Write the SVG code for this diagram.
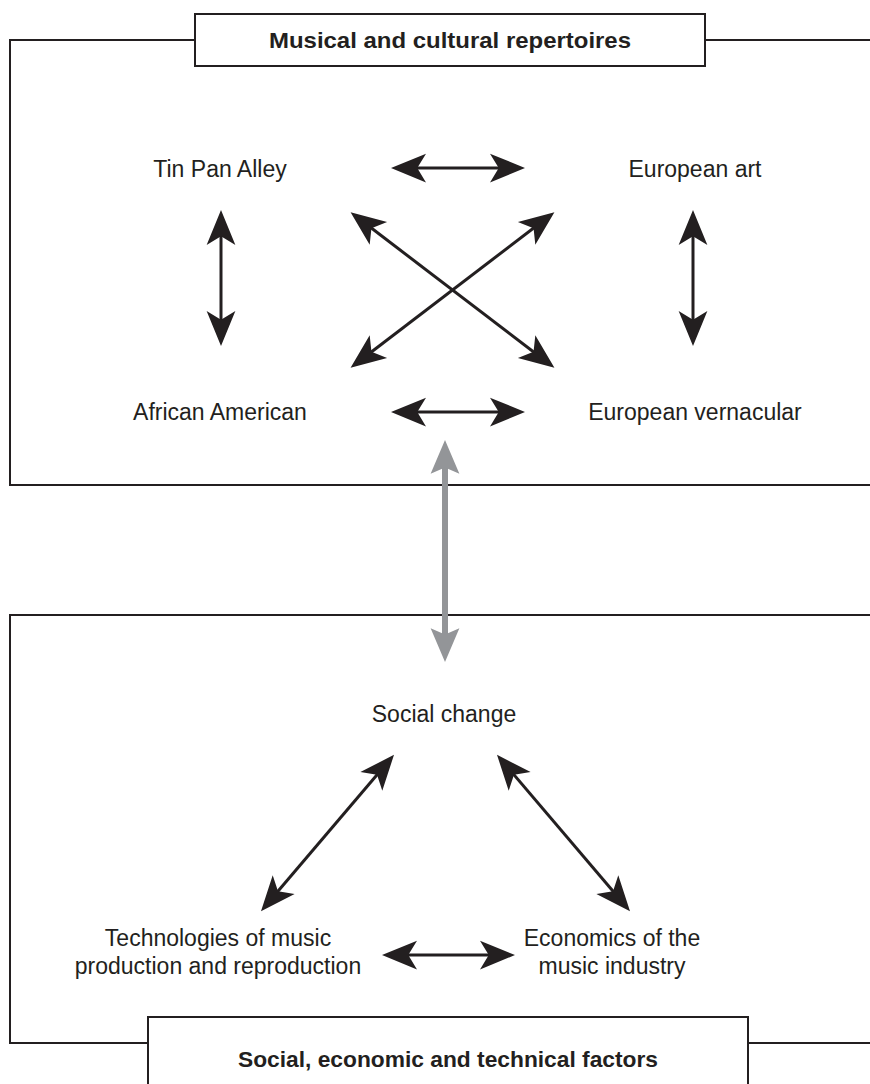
<svg xmlns="http://www.w3.org/2000/svg" width="870" height="1084" viewBox="0 0 870 1084">
<style>
.frame{fill:none;stroke:#231f20;stroke-width:2}
.box{fill:#fff;stroke:#231f20;stroke-width:2}
.lbl{font-family:"Liberation Sans",Arial,sans-serif;font-size:23px;fill:#231f20;text-anchor:middle}
.ttl{font-family:"Liberation Sans",Arial,sans-serif;font-size:22px;font-weight:bold;fill:#231f20;text-anchor:middle}
.arr{stroke:#231f20;stroke-width:3;fill:none;marker-start:url(#ah);marker-end:url(#ah)}
.garr{stroke:#939598;stroke-width:6;fill:none;marker-start:url(#gh);marker-end:url(#gh)}
</style>
<defs>
<marker id="ah" markerUnits="userSpaceOnUse" orient="auto-start-reverse" refX="-12" refY="0" markerWidth="40" markerHeight="40" viewBox="-30 -15 32 30" overflow="visible">
<path d="M0,0 L-28,-11.5 L-21,0 L-28,11.5 Z" fill="#231f20"/>
</marker>
<marker id="gh" markerUnits="userSpaceOnUse" orient="auto-start-reverse" refX="-12" refY="0" markerWidth="40" markerHeight="40" viewBox="-30 -15 32 30" overflow="visible">
<path d="M0,0 L-27,-11.5 L-22,0 L-27,11.5 Z" fill="#939598"/>
</marker>
</defs>
<rect width="870" height="1084" fill="#fff"/>
<g id="frame-top">
<path class="frame" d="M870,40 H705 M195,40 H10 V485 H870"/>
<rect class="box" x="195" y="14" width="510" height="52"/>
<text class="ttl" x="450" y="48" textLength="362" lengthAdjust="spacingAndGlyphs">Musical and cultural repertoires</text>
</g>
<g id="frame-bottom">
<path class="frame" d="M870,615 H10 V1043 H148 M748,1043 H870"/>
<rect class="box" x="148" y="1017" width="600" height="80"/>
<text class="ttl" x="448" y="1067" textLength="420" lengthAdjust="spacingAndGlyphs">Social, economic and technical factors</text>
</g>
<g id="connectors">
<line class="arr" x1="406" y1="168" x2="510" y2="168"/>
<line class="arr" x1="221" y1="225" x2="221" y2="331"/>
<line class="arr" x1="693" y1="225" x2="693" y2="331"/>
<line class="arr" x1="362.5" y1="221.3" x2="542.5" y2="358.7"/>
<line class="arr" x1="542.5" y1="221.3" x2="362.5" y2="358.7"/>
<line class="arr" x1="406" y1="412" x2="510" y2="412"/>
<line class="garr" x1="445" y1="455" x2="445" y2="647"/>
<line class="arr" x1="384.3" y1="766.2" x2="270.7" y2="899.8"/>
<line class="arr" x1="506.7" y1="766.2" x2="620.3" y2="899.8"/>
<line class="arr" x1="397" y1="955" x2="500" y2="955"/>
</g>
<g id="node-tin-pan-alley"><text class="lbl" x="220" y="177">Tin Pan Alley</text></g>
<g id="node-european-art"><text class="lbl" x="695" y="177">European art</text></g>
<g id="node-african-american"><text class="lbl" x="220" y="420">African American</text></g>
<g id="node-european-vernacular"><text class="lbl" x="695" y="420">European vernacular</text></g>
<g id="node-social-change"><text class="lbl" x="444" y="722">Social change</text></g>
<g id="node-technologies"><text class="lbl" x="218" y="946">Technologies of music<tspan x="218" dy="28">production and reproduction</tspan></text></g>
<g id="node-economics"><text class="lbl" x="612" y="946">Economics of the<tspan x="612" dy="28">music industry</tspan></text></g>
</svg>
